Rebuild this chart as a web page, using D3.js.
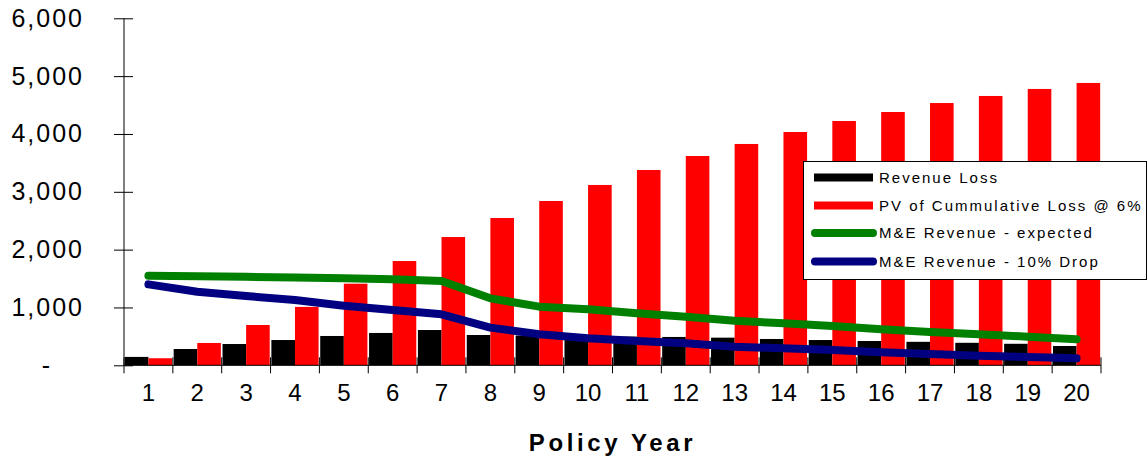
<!DOCTYPE html>
<html>
<head>
<meta charset="utf-8">
<script src="https://cdn.jsdelivr.net/npm/d3@7"></script>
<style>
  html, body { margin: 0; padding: 0; background: #fff; }
  svg { display: block; font-family: "Liberation Sans", Arial, sans-serif; }
</style>
</head>
<body>
<svg id="chart" width="1148" height="461"></svg>
<script>
// Policy years on the x axis
const years = ["1","2","3","4","5","6","7","8","9","10","11","12","13","14","15","16","17","18","19","20"];
// Bar series
const revenueLoss = [145, 282, 368, 437, 507, 559, 610, 524, 515, 505, 497, 490, 478, 455, 437, 420, 406, 389, 372, 334];
const pvCumLoss = [122, 386, 697, 1010, 1411, 1803, 2218, 2547, 2841, 3118, 3377, 3619, 3827, 4034, 4224, 4380, 4535, 4657, 4778, 4882];
// Line series
const meExpected = [1550, 1540, 1530, 1518, 1504, 1487, 1458, 1158, 1014, 968, 899, 841, 772, 726, 680, 622, 576, 536, 495, 450];
const meDrop = [1400, 1273, 1198, 1129, 1031, 956, 882, 651, 536, 467, 420, 380, 322, 294, 265, 225, 195, 166, 144, 121];
// Axis ticks
const yTicks = [0, 1000, 2000, 3000, 4000, 5000, 6000];

const svg = d3.select("#chart");
const plotLeft = 124, plotRight = 1101, plotTop = 18.3, plotBottom = 365.3;

const x = d3.scaleBand().domain(years).range([plotLeft, plotRight]).paddingInner(0).paddingOuter(0);
const inner = d3.scaleBand().domain(["loss", "pv"]).range([0, x.bandwidth()]).paddingOuter(0.035).paddingInner(0);
const y = d3.scaleLinear().domain([0, 6000]).range([plotBottom, plotTop]);

// Bars
const g = svg.append("g");
const barSeries = [
  { key: "loss", values: revenueLoss, color: "#000000" },
  { key: "pv", values: pvCumLoss, color: "#ff0000" }
];
barSeries.forEach(s => {
  g.selectAll(null).data(years).enter().append("rect")
    .attr("x", (d) => x(d) + inner(s.key))
    .attr("y", (d, i) => y(s.values[i]))
    .attr("width", inner.bandwidth())
    .attr("height", (d, i) => y(0) - y(s.values[i]))
    .attr("fill", s.color);
});

// Y axis with crossing ticks
const yAxis = svg.append("g").attr("transform", `translate(${plotLeft},0)`)
  .call(d3.axisLeft(y).tickValues(yTicks).tickSizeInner(10).tickSizeOuter(0).tickPadding(30)
    .tickFormat(d => d === 0 ? "-" : d3.format(",")(d)));
yAxis.select(".domain").attr("stroke", "#000").attr("d", `M0,${plotTop}V${plotBottom}`);
yAxis.selectAll(".tick line").attr("x1", 9).attr("x2", -10).attr("stroke", "#000");
yAxis.selectAll(".tick text")
  .attr("font-size", 25).attr("fill", "#000").style("letter-spacing", "2px")
  .attr("dx", d => d === 0 ? -32 : 0);

// X axis: labels centred in each band, ticks on band boundaries
const xAxis = svg.append("g").attr("transform", `translate(0,${plotBottom})`)
  .call(d3.axisBottom(x).tickSize(0).tickPadding(19));
xAxis.select(".domain").attr("stroke", "#000").attr("d", `M${plotLeft},0H${plotRight}`);
xAxis.selectAll(".tick text").attr("font-size", 24).attr("fill", "#000");
const bounds = years.map(d => x(d)).concat([x(years[years.length - 1]) + x.bandwidth()]);
xAxis.selectAll(".bound").data(bounds).enter().append("line")
  .attr("x1", d => d).attr("x2", d => d).attr("y1", -8).attr("y2", 8)
  .attr("stroke", "#000").attr("stroke-width", 1);

svg.append("text")
  .attr("x", (plotLeft + plotRight) / 2).attr("y", 451)
  .attr("text-anchor", "middle").attr("font-size", 24).attr("font-weight", "bold")
  .style("letter-spacing", "3.6px")
  .text("Policy Year");

// Lines
const cx = d => x(d) + x.bandwidth() / 2;
const lineSeries = [
  { values: meExpected, color: "#008000" },
  { values: meDrop, color: "#000080" }
];
lineSeries.forEach(s => {
  svg.append("path")
    .datum(years)
    .attr("d", d3.line().x(cx).y((d, i) => y(s.values[i])))
    .attr("fill", "none").attr("stroke", s.color).attr("stroke-width", 8)
    .attr("stroke-linecap", "round").attr("stroke-linejoin", "round");
});

// Legend
const legend = svg.append("g");
legend.append("rect").attr("x", 803.5).attr("y", 161.5).attr("width", 343).attr("height", 118)
  .attr("fill", "#fff").attr("stroke", "#000").attr("stroke-width", 1);
const legendItems = [
  { label: "Revenue Loss", color: "#000000", type: "bar" },
  { label: "PV of Cummulative Loss @ 6%", color: "#ff0000", type: "bar" },
  { label: "M&E Revenue - expected", color: "#008000", type: "line" },
  { label: "M&E Revenue - 10% Drop", color: "#000080", type: "line" }
];
const rowY = [177.5, 205.5, 233, 261.5];
legendItems.forEach((it, i) => {
  const yy = rowY[i];
  if (it.type === "bar") {
    legend.append("rect").attr("x", 814).attr("y", yy - 4).attr("width", 59).attr("height", 8).attr("fill", it.color);
  } else {
    legend.append("line").attr("x1", 815).attr("x2", 873).attr("y1", yy).attr("y2", yy)
      .attr("stroke", it.color).attr("stroke-width", 8).attr("stroke-linecap", "round");
  }
  legend.append("text").attr("x", 879).attr("y", yy).attr("dy", "0.36em")
    .attr("font-size", 15).attr("fill", "#000").style("letter-spacing", "2px")
    .text(it.label);
});
</script>
</body>
</html>
